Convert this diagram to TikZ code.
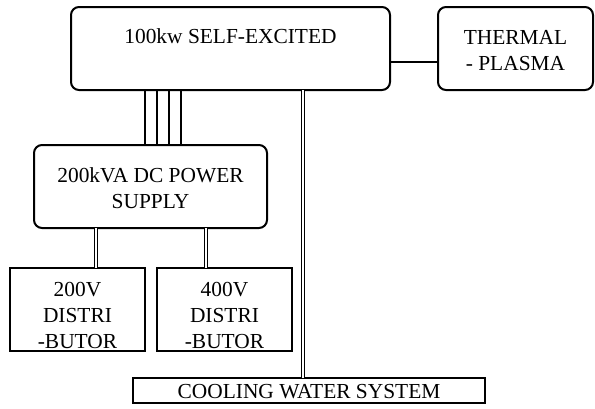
\documentclass[tikz,border=0pt]{standalone}
\usepackage{fontspec}
\setmainfont{Liberation Serif}
\begin{document}
\begin{tikzpicture}[x=1pt,y=-1pt,
  rbox/.style={draw,line width=2pt,rounded corners=8pt,inner sep=0pt,outer sep=0pt},
  sbox/.style={draw,line width=1.1pt,inner sep=0pt,outer sep=0pt},
  lbl/.style={inner sep=0pt,align=center,font=\fontsize{21.4}{26}\selectfont},
  wire/.style={line width=1.1pt},
  dbl/.style={double,double distance=2.6pt,line width=0.9pt}]
\useasboundingbox (0,0) rectangle (595,408);
% boxes
\node[rbox,minimum width=319pt,minimum height=83pt] (top) at (230.5,48.5) {};
\node[lbl] (toptext) at (230.5,36) {100kw SELF-EXCITED};
\node[rbox,minimum width=155pt,minimum height=83pt] (thermal) at (515.5,48.5) {};
\node[lbl] (thermtext) at (515.5,50.5) {THERMAL\\- PLASMA};
\node[rbox,minimum width=233pt,minimum height=83pt] (dc) at (150.5,186.5) {};
\node[lbl] (dctext) at (150.5,188.5) {200kVA DC POWER\\SUPPLY};
\node[sbox,minimum width=135pt,minimum height=83pt] (d1) at (77.5,309.5) {};
\node[lbl] (d1text) at (77.5,315) {200V\\DISTRI\\-BUTOR};
\node[sbox,minimum width=135pt,minimum height=83pt] (d2) at (224.5,309.5) {};
\node[lbl] (d2text) at (224.5,315) {400V\\DISTRI\\-BUTOR};
\node[sbox,minimum width=352pt,minimum height=25pt] (cool) at (309,390.5) {};
\node[lbl] (cooltext) at (309,392) {COOLING WATER SYSTEM};
% connectors
\draw[wire] ([yshift=-13.5pt]top.east) -- ([yshift=-13.5pt]thermal.west);
\foreach \xx in {145,157,169,181}
  \draw[wire] (\xx,0 |- top.south) -- (\xx,0 |- dc.north);
\draw[dbl] (303,0 |- top.south) -- (303,0 |- cool.north);
\draw[dbl] (96,0 |- dc.south) -- (96,0 |- d1.north);
\draw[dbl] (206,0 |- dc.south) -- (206,0 |- d2.north);
\end{tikzpicture}
\end{document}
